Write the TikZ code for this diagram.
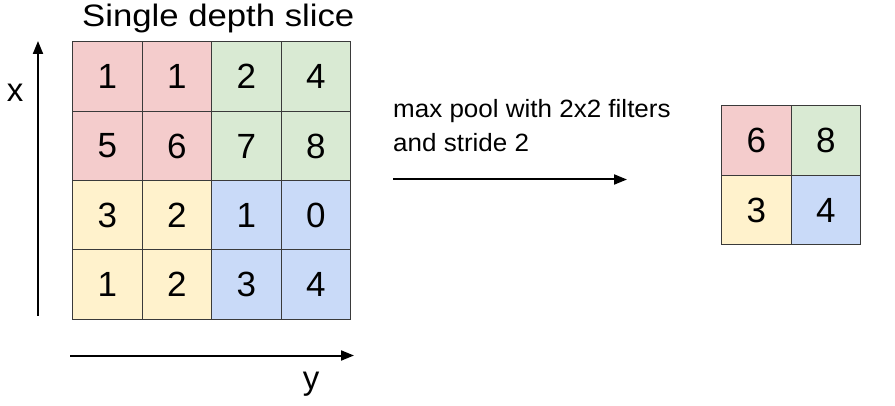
\documentclass[tikz,border=0pt]{standalone}
\usepackage{fontspec}
\setmainfont{Liberation Sans}
\newfontfamily\titlefont{Liberation Sans}[FakeStretch=1.12]
\newfontfamily\midfont{Liberation Sans}[FakeStretch=1.04]
\usetikzlibrary{arrows.meta}
\definecolor{cred}{HTML}{F4CCCC}
\definecolor{cgreen}{HTML}{D9EAD3}
\definecolor{cyellow}{HTML}{FFF2CC}
\definecolor{cblue}{HTML}{C9DAF8}
\definecolor{cline}{HTML}{3A3A3A}
\tikzset{
  cell/.style={draw=cline, line width=1pt, minimum width=69.5pt, minimum height=69.5pt, inner sep=0pt, anchor=north west, font=\fontsize{35}{37}\selectfont},
  axis/.style={line width=2pt, -{Triangle[length=13pt,width=10pt]}},
  lbl/.style={inner sep=0pt, font=\fontsize{33}{35}\selectfont}
}
\begin{document}
\begin{tikzpicture}[x=1pt,y=-1pt]
\useasboundingbox (0,0) rectangle (895,406);
% large grid
\foreach \r/\c/\v/\col [count=\i] in {
 0/0/1/cred,0/1/1/cred,0/2/2/cgreen,0/3/4/cgreen,
 1/0/5/cred,1/1/6/cred,1/2/7/cgreen,1/3/8/cgreen,
 2/0/3/cyellow,2/1/2/cyellow,2/2/1/cblue,2/3/0/cblue,
 3/0/1/cyellow,3/1/2/cyellow,3/2/3/cblue,3/3/4/cblue}
  \node[cell, fill=\col] (g\i) at (72+69.5*\c, 41.5+69.3*\r) {\v};
% small grid
\node[cell, fill=cred]    (s1) at (721,105.5) {6};
\node[cell, fill=cgreen]  (s2) at (790.5,105.5) {8};
\node[cell, fill=cyellow] (s3) at (721,175) {3};
\node[cell, fill=cblue]   (s4) at (790.5,175) {4};
% title
\node[inner sep=0pt, anchor=base west, font=\titlefont\fontsize{31}{33}\selectfont] (title) at (82,27) {Single depth slice};
% axes
\coordinate (xa0) at (38,316);
\coordinate (xa1) at (38,41);
\draw[axis] (xa0) -- (xa1);
\node[lbl, anchor=base] (xl) at (15,102) {x};
\coordinate (ya0) at (70,355.5);
\coordinate (ya1) at (354,355.5);
\draw[axis] (ya0) -- (ya1);
\node[lbl, anchor=base] (yl) at (311,389) {y};
% middle
\node[inner sep=0pt, anchor=base west, align=left, font=\midfont\fontsize{25}{34}\selectfont] (mt) at (393,152) {max pool with 2x2 filters\\and stride 2};
\coordinate (ma0) at (393,179.5);
\coordinate (ma1) at (627,179.5);
\draw[axis] (ma0) -- (ma1);
\end{tikzpicture}
\end{document}
